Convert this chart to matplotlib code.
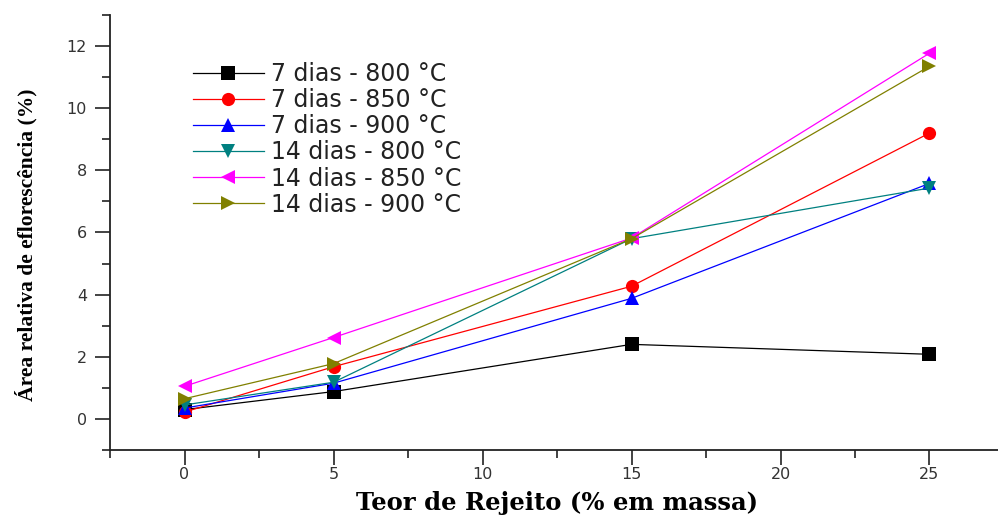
import matplotlib
matplotlib.use('Agg')
import matplotlib.pyplot as plt
from matplotlib.ticker import MultipleLocator

# teor de rejeito (% em massa)
teor = [0, 5, 15, 25]

# area relativa de eflorescencia (%) for each cure / temperature
d7_800 = [0.30, 0.88, 2.40, 2.08]
d7_850 = [0.22, 1.68, 4.27, 9.20]
d7_900 = [0.35, 1.15, 3.88, 7.58]
d14_800 = [0.45, 1.18, 5.80, 7.43]
d14_850 = [1.05, 2.62, 5.82, 11.77]
d14_900 = [0.65, 1.78, 5.80, 11.35]

labels = ['7 dias - 800 °C', '7 dias - 850 °C', '7 dias - 900 °C',
          '14 dias - 800 °C', '14 dias - 850 °C', '14 dias - 900 °C']
series = [d7_800, d7_850, d7_900, d14_800, d14_850, d14_900]
colors = ['#000000', '#ff0000', '#0000ff', '#008080', '#ff00ff', '#808000']
markers = ['s', 'o', '^', 'v', '<', '>']

W, H = 998, 515
fig = plt.figure(figsize=(W / 100, H / 100), dpi=100)
# axes runs a bit past the right edge, like the cropped original
ax = fig.add_axes([110 / W, 1 - 450 / H, 894 / W, 435 / H])

for y, lab, c, m in zip(series, labels, colors, markers):
    ax.plot(teor, y, color=c, marker=m, markersize=9.5, linewidth=0.9,
            markeredgewidth=0, label=lab)

ax.set_xlim(-2.5, 27.5)
ax.set_ylim(-1, 13)
ax.xaxis.set_major_locator(MultipleLocator(5))
ax.xaxis.set_minor_locator(MultipleLocator(2.5))
ax.yaxis.set_major_locator(MultipleLocator(2))
ax.yaxis.set_minor_locator(MultipleLocator(1))

for side in ['top', 'right']:
    ax.spines[side].set_visible(False)
for side in ['left', 'bottom']:
    ax.spines[side].set_linewidth(1.3)
    ax.spines[side].set_color('#222222')

ax.tick_params(which='major', length=10.5, width=1.2, color='#222222', labelsize=11.5,
               labelcolor='#333333')
ax.tick_params(which='minor', length=5.5, width=1.2, color='#222222')
ax.tick_params(axis='x', which='major', pad=2)
ax.tick_params(axis='y', which='major', pad=6)
for t in ax.get_xticklabels() + ax.get_yticklabels():
    t.set_fontfamily('DejaVu Sans')

ax.set_ylabel('Área relativa de eflorescência (%)', family='Liberation Serif',
              fontweight='bold', fontsize=15.5)
ax.yaxis.set_label_coords(-(110 - 37) / 894, 0.5 - 12 / 435)
ax.set_xlabel('Teor de Rejeito (% em massa)', family='DejaVu Serif',
              fontweight='bold', fontsize=17.5)
ax.xaxis.set_label_coords(0.5, -(491 - 450) / 435)

leg = ax.legend(loc='upper left', bbox_to_anchor=((193 - 110) / 894, 1 - (62 - 15) / 435),
                frameon=False, borderpad=0, borderaxespad=0, handlelength=3.0,
                handletextpad=0.3, labelspacing=0.09,
                prop={'family': 'DejaVu Sans', 'size': 17})
for t in leg.get_texts():
    t.set_color('#222222')

fig.savefig('out.png', dpi=100)
